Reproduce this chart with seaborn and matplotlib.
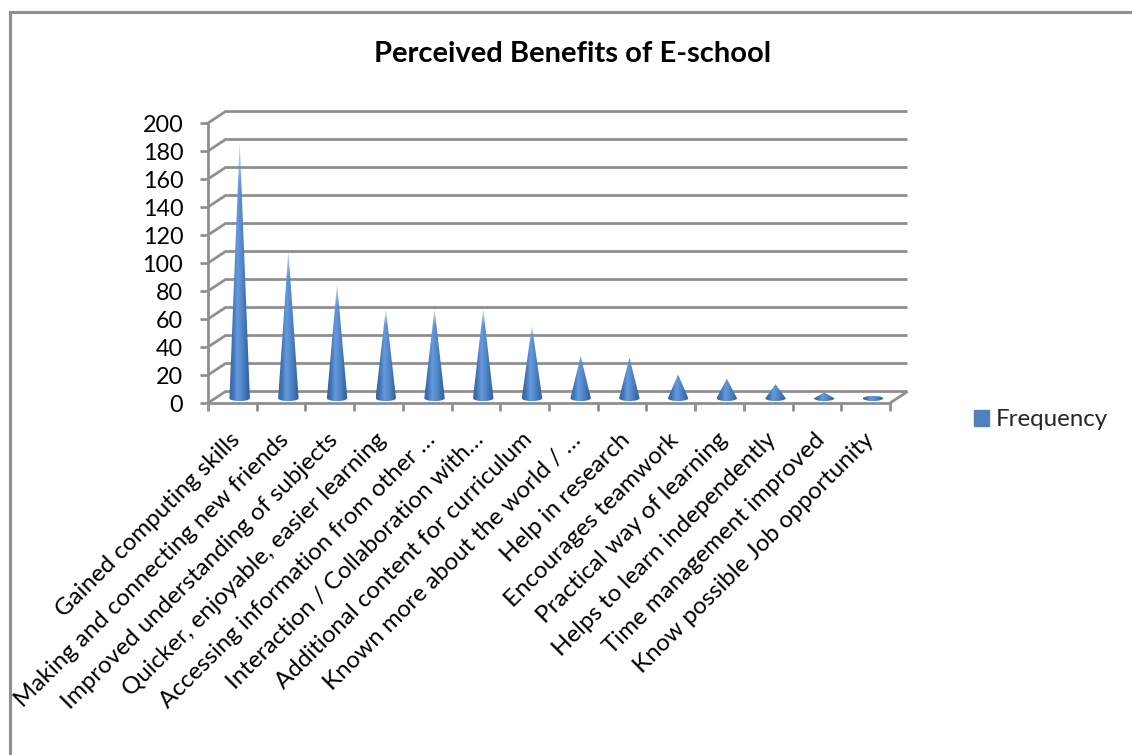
import numpy as np
import matplotlib
matplotlib.use("Agg")
import matplotlib.pyplot as plt
from matplotlib.patches import Patch, PathPatch, Rectangle
from matplotlib.path import Path
from matplotlib.colors import LinearSegmentedColormap
import seaborn as sns

benefits = [
    "Gained computing skills",
    "Making and connecting new friends",
    "Improved understanding of subjects",
    "Quicker, enjoyable, easier learning",
    "Accessing information from other …",
    "Interaction / Collaboration with…",
    "Additional content for curriculum",
    "Known more about the world / …",
    "Help in research",
    "Encourages teamwork",
    "Practical way of learning",
    "Helps to learn independently",
    "Time management improved",
    "Know possible Job opportunity",
]
frequency = [184, 106, 82, 64, 64, 64, 52, 30, 29, 17, 14, 10, 4, 1]
y_ticks = list(range(0, 201, 20))

W, H = 1132, 755
GREY = "#8f8f8f"
FONT = "Lato"

sns.set_theme(style="white")
plt.rcParams["font.family"] = [FONT, "DejaVu Sans"]

fig = plt.figure(figsize=(W / 100, H / 100), dpi=100, facecolor="white")


def px_box(x0, y_top, x1, y_bottom):
    return [x0 / W, 1 - y_bottom / H, (x1 - x0) / W, (y_bottom - y_top) / H]


ax = fig.add_axes(px_box(208, 123, 890, 403))
sns.barplot(x=benefits, y=frequency, ax=ax, color="#4f81bd", width=0.4, zorder=3)
ax.set_xlim(-0.5, 13.5)
ax.set_ylim(0, 200)
ax.patch.set_alpha(0)

# Depth of the pseudo-3D box, in data units
depth_x = 17.5 / 48.7
depth_y = 11.5 / 1.4

line = dict(color=GREY, lw=2.0, clip_on=False, solid_capstyle="butt", zorder=1)
for v in y_ticks:
    ax.plot([-0.5, -0.5 + depth_x, 13.5 + depth_x],
            [v, v + depth_y, v + depth_y], **line)
ax.plot([13.5, 13.5 + depth_x], [0, depth_y], **line)

# Cones: horizontal shading, with the tip fading towards the background
cone_cmap = LinearSegmentedColormap.from_list(
    "cone", ["#34639f", "#4477b8", "#669ade", "#5388cb", "#3e72b2", "#2f5f9a"]
)
half_w = 0.21
for bar, value in zip(list(ax.patches), frequency):
    cx = bar.get_x() + bar.get_width() / 2 + 0.15
    base = 3.4
    tip = base + bar.get_height()
    bar.set_visible(False)

    t = np.linspace(np.pi, 2 * np.pi, 30)
    verts = [(cx + half_w * np.cos(a), base + 2.0 * np.sin(a)) for a in t]
    if value <= 1:
        # A very short cone shows almost only its base ellipse
        verts = verts + [(cx + half_w * np.cos(a), base + 1.6 * np.sin(a)) for a in t - np.pi]
    else:
        verts = verts + [(cx, tip)]
    verts.append(verts[0])
    codes = [Path.MOVETO] + [Path.LINETO] * (len(verts) - 2) + [Path.CLOSEPOLY]
    clip = PathPatch(Path(verts, codes), transform=ax.transData, fc="none", ec="none")
    ax.add_patch(clip)

    gx = np.linspace(0, 1, 64)
    rgba = cone_cmap(gx)[None, :, :].repeat(128, axis=0)
    # Row 0 sits at the tip because the image origin is "upper"
    frac = np.linspace(0, 1, 128)[:, None]
    if value > 40:
        rgba[:, :, 3] = np.clip(0.25 + frac / 0.25, 0, 1)
    im = ax.imshow(rgba, extent=(cx - half_w, cx + half_w, base - 2.0, tip),
                   aspect="auto", origin="upper", zorder=3, interpolation="bilinear")
    im.set_clip_path(clip)

ax.set_xlim(-0.5, 13.5)
ax.set_ylim(0, 200)

sns.despine(ax=ax, top=True, right=True)
for side in ("left", "bottom"):
    ax.spines[side].set_color(GREY)
    ax.spines[side].set_linewidth(2.0)

ax.set_yticks(y_ticks)
ax.set_xticks(np.arange(-0.5, 14.5, 1), minor=False)
ax.set_xticklabels([])
ax.tick_params(axis="both", which="major", color=GREY, width=2.0, length=5.8,
               left=True, bottom=True, labelsize=16.8, labelcolor="black", pad=0)
ax.tick_params(axis="y", pad=12)

for i, label in enumerate(benefits):
    ax.annotate(label, xy=(i, 0), xycoords="data",
                xytext=(-3, -26), textcoords="offset pixels",
                rotation=45, rotation_mode="anchor", ha="right", va="top",
                fontsize=17.4, color="black", annotation_clip=False)

ax.legend(handles=[Patch(color="#4f81bd", label="Frequency")],
          loc="center left", bbox_to_anchor=(974 / W, 1 - 420 / H),
          bbox_transform=fig.transFigure, frameon=False, fontsize=17.4,
          handlelength=0.62, handleheight=0.62, handletextpad=0.3, borderpad=0,
          borderaxespad=0)

fig.text(572.5 / W, 1 - 53.5 / H, "Perceived Benefits of E-school", ha="center", va="center",
         fontsize=21, fontweight="bold", color="black")

# Chart-area frame: left and top sides stay inside the canvas, the rest runs off it
fig.add_artist(Rectangle((9.5 / W, 1 - 800 / H), 1200 / W, 788.5 / H, transform=fig.transFigure,
                         fc="none", ec=GREY, lw=2.2))

fig.savefig("out.png", dpi=100)
